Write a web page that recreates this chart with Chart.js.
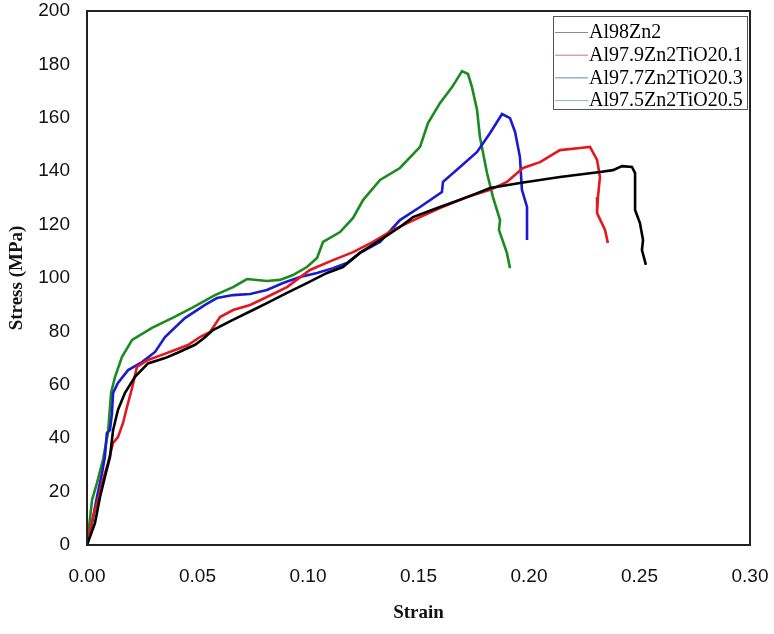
<!DOCTYPE html>
<html>
<head>
<meta charset="utf-8">
<script src="https://cdn.jsdelivr.net/npm/chart.js@4/dist/chart.umd.min.js"></script>
<style>
  body { margin: 0; background: #fff; }
  #wrap { width: 774px; height: 634px; }
</style>
</head>
<body>
<div id="wrap"><canvas id="myChart" width="774" height="634"></canvas></div>
<script>
const seriesNames = ['Al98Zn2', 'Al97.9Zn2TiO20.1', 'Al97.7Zn2TiO20.3', 'Al97.5Zn2TiO20.5']

const strainA = [0, 0.0036, 0.0059, 0.0081, 0.0104, 0.0118, 0.014, 0.0172, 0.0217, 0.0276, 0.0353, 0.041, 0.0489, 0.053, 0.057, 0.066, 0.0751, 0.0814, 0.0905, 0.0995, 0.1086, 0.1158, 0.1235, 0.1326, 0.1416, 0.1475, 0.1597, 0.172, 0.1824, 0.1959, 0.214, 0.2321, 0.238, 0.2421, 0.2466, 0.248, 0.248, 0.248, 0.2502, 0.2516, 0.2511, 0.2529]
const stressA = [0, 8.2, 18, 25.5, 33, 43, 50.6, 57, 63, 68, 70, 72, 75, 77.5, 80.5, 84.3, 88, 90.6, 94.4, 98.1, 101.9, 104.1, 109.4, 114.2, 119.1, 122.8, 126.6, 130.3, 133.7, 135.6, 137.8, 139.7, 140.4, 141.9, 141.6, 139.3, 133, 125.5, 120.6, 114.2, 110.5, 104.9]

const strainB = [0, 0.0027, 0.005, 0.0072, 0.0095, 0.0118, 0.014, 0.0163, 0.0181, 0.0204, 0.0226, 0.0276, 0.0339, 0.0398, 0.0457, 0.0511, 0.0557, 0.0602, 0.0661, 0.0738, 0.0814, 0.0905, 0.1009, 0.1113, 0.1204, 0.1294, 0.1385, 0.1507, 0.1597, 0.172, 0.1824, 0.19, 0.1973, 0.205, 0.214, 0.2231, 0.2276, 0.2308, 0.2321, 0.2312, 0.2308, 0.2344, 0.2357]
const stressB = [0, 10.5, 16.9, 24.3, 30.7, 38.2, 40.4, 45.7, 51.7, 58.8, 66.7, 69.3, 71.2, 73, 74.9, 77.9, 79.8, 85.4, 88, 89.9, 92.9, 96.6, 103, 106.7, 109.7, 113.5, 118, 122.8, 126.2, 130.3, 133, 136, 141.2, 143.4, 147.9, 148.7, 149.1, 144.2, 137.8, 130.3, 124.3, 118, 113.1]

const strainC = [0, 0.0023, 0.0045, 0.0068, 0.0081, 0.009, 0.0104, 0.0113, 0.0118, 0.014, 0.0186, 0.0249, 0.0308, 0.0353, 0.0443, 0.0534, 0.0588, 0.0661, 0.0738, 0.0814, 0.0887, 0.0964, 0.1041, 0.1113, 0.1176, 0.1235, 0.1326, 0.1416, 0.1507, 0.1606, 0.1611, 0.1688, 0.1765, 0.1824, 0.1878, 0.1914, 0.1937, 0.1959, 0.1968, 0.1991, 0.1991]
const stressC = [0, 8.2, 18, 27, 33, 42, 43, 49.4, 57, 60.7, 65.5, 68.5, 72.3, 77.9, 85, 89.9, 92.5, 93.6, 94, 95.5, 98.1, 100.4, 101.9, 103.7, 105.6, 109.4, 113.5, 121.7, 126.6, 132.2, 136, 141.6, 147.2, 154.3, 161.4, 159.9, 154.7, 145.3, 133, 126.6, 114.2]

const strainD = [0, 0.0023, 0.0045, 0.0072, 0.0095, 0.0109, 0.0127, 0.0158, 0.0204, 0.0294, 0.0385, 0.0475, 0.0579, 0.0661, 0.0724, 0.0814, 0.0873, 0.0932, 0.0995, 0.1041, 0.1068, 0.1145, 0.1204, 0.1249, 0.1326, 0.1416, 0.1507, 0.1543, 0.1597, 0.1652, 0.1697, 0.1724, 0.1742, 0.1765, 0.1778, 0.181, 0.1837, 0.1869, 0.1864, 0.19, 0.1914]
const stressD = [0, 16.9, 23.2, 31.8, 42, 57, 63, 70.4, 76.8, 81.3, 85, 88.8, 93.6, 96.6, 99.6, 98.9, 99.3, 101.1, 104.1, 107.5, 113.5, 117.2, 122.5, 129.2, 136.7, 141.2, 149.1, 158, 165.5, 171.5, 177.5, 176.4, 171.5, 162.9, 152.8, 139.3, 130.3, 121.7, 118, 109.4, 103.7]

const xTicks = [0, 0.05, 0.10, 0.15, 0.20, 0.25, 0.30]
const yTicks = [0, 20, 40, 60, 80, 100, 120, 140, 160, 180, 200]

const lineColors = ['#000000', '#e3181f', '#1a1ad2', '#1b8a1f']
const legendColors = ['#8a8a8a', '#c87878', '#5a8fa8', '#7cc0a8']

const pts = (xs, ys) => xs.map((x, i) => ({ x: x, y: ys[i] }))
const allData = [pts(strainA, stressA), pts(strainB, stressB), pts(strainC, stressC), pts(strainD, stressD)]

// box round plot area + legend box inside it
const boxPlugin = {
    id: 'boxPlugin',
    afterDraw(chart) {
        const c = chart.ctx
        const a = chart.chartArea
        c.save()
        c.strokeStyle = '#222'
        c.lineWidth = 2
        c.strokeRect(a.left, a.top, a.right - a.left, a.bottom - a.top)

        // legend
        const lx = 553, ly = 16, lw = 194, lh = 93
        c.fillStyle = '#fff'
        c.fillRect(lx, ly, lw, lh)
        c.strokeStyle = '#555'
        c.lineWidth = 1
        c.strokeRect(lx + 0.5, ly + 0.5, lw, lh)
        c.font = '20px "Liberation Serif", "Times New Roman", serif'
        c.textBaseline = 'middle'
        seriesNames.forEach((n, i) => {
            const yy = 32 + i * 22.7
            c.strokeStyle = legendColors[i]
            c.beginPath()
            c.moveTo(555, yy + 0.5)
            c.lineTo(588, yy + 0.5)
            c.stroke()
            c.fillStyle = '#000'
            c.fillText(n, 589, yy + 1)
        })
        c.restore()
    }
}

const ctx = document.getElementById('myChart').getContext('2d')
new Chart(ctx, {
    type: 'scatter',
    data: {
        datasets: allData.map((d, i) => ({
            label: seriesNames[i],
            data: d,
            showLine: true,
            borderColor: lineColors[i],
            backgroundColor: lineColors[i],
            borderWidth: 2.6,
            pointRadius: 0,
            tension: 0
        }))
    },
    options: {
        responsive: false,
        animation: false,
        layout: { padding: { top: 11, right: 24, left: 0, bottom: 0 } },
        plugins: {
            legend: { display: false },
            tooltip: { enabled: false }
        },
        scales: {
            x: {
                type: 'linear',
                min: 0,
                max: 0.3,
                afterBuildTicks: s => { s.ticks = xTicks.map(v => ({ value: v })) },
                afterFit: s => { s.height = 89; s.paddingLeft = 0; s.paddingRight = 0 },
                grid: { display: false, drawTicks: false },
                border: { display: false },
                ticks: {
                    padding: 20,
                    color: '#111',
                    font: { family: '"Liberation Sans", Arial, sans-serif', size: 19 },
                    callback: v => v.toFixed(2)
                },
                title: {
                    display: true,
                    text: 'Strain',
                    color: '#111',
                    padding: { top: 6, bottom: 10 },
                    font: { family: '"Liberation Serif", "Times New Roman", serif', size: 19, weight: 'bold' }
                }
            },
            y: {
                min: 0,
                max: 200,
                afterBuildTicks: s => { s.ticks = yTicks.map(v => ({ value: v })) },
                afterFit: s => { s.width = 87; s.paddingTop = 0; s.paddingBottom = 0 },
                grid: { display: false, drawTicks: false },
                border: { display: false },
                ticks: {
                    padding: 17,
                    color: '#111',
                    font: { family: '"Liberation Sans", Arial, sans-serif', size: 19 }
                },
                title: {
                    display: true,
                    text: 'Stress (MPa)',
                    color: '#111',
                    padding: { top: 6, bottom: 4 },
                    font: { family: '"Liberation Serif", "Times New Roman", serif', size: 19, weight: 'bold' }
                }
            }
        }
    },
    plugins: [boxPlugin]
})
</script>
</body>
</html>
